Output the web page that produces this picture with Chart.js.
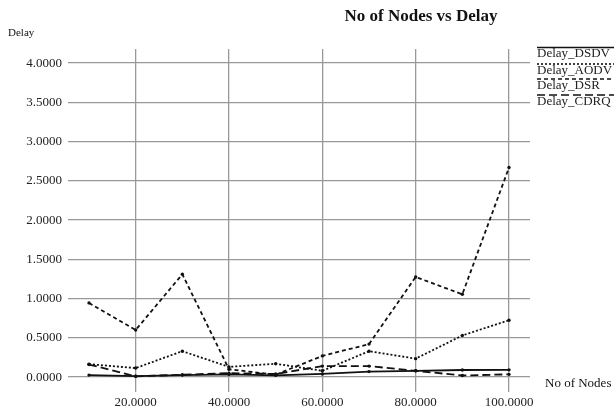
<!DOCTYPE html>
<html>
<head>
<meta charset="utf-8">
<script src="https://cdn.jsdelivr.net/npm/chart.js@4/dist/chart.umd.min.js"></script>
<style>
  html, body { margin: 0; padding: 0; background: #fff; }
  #wrap { width: 616px; height: 409px; position: relative; }
</style>
</head>
<body>
<div id="wrap"><canvas id="c" width="616" height="409"></canvas></div>
<script>
// Number of nodes in the simulation
const nodes = [10, 20, 30, 40, 50, 60, 70, 80, 90, 100];

// Average end-to-end delay per protocol
const delayDSDV = [0.025, 0.012, 0.025, 0.035, 0.022, 0.040, 0.070, 0.080, 0.090, 0.092];
const delayAODV = [0.165, 0.115, 0.330, 0.130, 0.170, 0.080, 0.330, 0.235, 0.530, 0.725];
const delayDSR  = [0.945, 0.600, 1.310, 0.100, 0.030, 0.270, 0.420, 1.275, 1.055, 2.670];
const delayCDRQ = [0.160, 0.010, 0.030, 0.050, 0.040, 0.140, 0.140, 0.080, 0.020, 0.035];

const seriesNames = ['Delay_DSDV', 'Delay_AODV', 'Delay_DSR', 'Delay_CDRQ'];

// Tick values on each axis
const xTicks = [20, 40, 60, 80, 100];
const yTicks = [0, 0.5, 1, 1.5, 2, 2.5, 3, 3.5, 4];

const SERIF = '"Liberation Serif", "Times New Roman", serif';
const dashes = [[], [2, 2], [4, 3], [8, 4]];

function pts(values) {
  return nodes.map((n, i) => ({ x: n, y: values[i] }));
}

const allSeries = [delayDSDV, delayAODV, delayDSR, delayCDRQ];
const datasets = allSeries.map((vals, i) => ({
  label: seriesNames[i],
  data: pts(vals),
  borderColor: '#111',
  backgroundColor: '#111',
  borderWidth: 1.8,
  borderDash: dashes[i],
  pointRadius: 1.7,
  pointBorderWidth: 0,
  pointBackgroundColor: '#111',
  tension: 0,
  fill: false
}));

// Title, axis captions and the line-over-text legend
const decorations = {
  id: 'decorations',
  afterDraw(chart) {
    const ctx = chart.ctx;
    ctx.save();
    ctx.fillStyle = '#111';
    ctx.textBaseline = 'middle';

    ctx.font = 'bold 17px ' + SERIF;
    ctx.textAlign = 'center';
    ctx.fillText('No of Nodes vs Delay', 421, 17);

    ctx.font = '11px ' + SERIF;
    ctx.textAlign = 'left';
    ctx.fillText('Delay', 8, 33);

    ctx.font = '13px ' + SERIF;
    ctx.fillText('No of Nodes', 545, 384);

    const lx = 537, lw = 77;
    const lineYs = [47.5, 64, 79, 95];
    seriesNames.forEach((name, i) => {
      ctx.beginPath();
      ctx.setLineDash(dashes[i]);
      ctx.lineWidth = 1.6;
      ctx.strokeStyle = '#111';
      ctx.moveTo(lx, lineYs[i]);
      ctx.lineTo(lx + lw, lineYs[i]);
      ctx.stroke();
      ctx.setLineDash([]);
      ctx.font = '13px ' + SERIF;
      ctx.fillStyle = '#222';
      ctx.fillText(name, lx, lineYs[i] + 6.5);
    });
    ctx.restore();
  }
};

new Chart(document.getElementById('c'), {
  type: 'line',
  data: { datasets },
  options: {
    responsive: false,
    animation: false,
    layout: { padding: { top: 49, right: 86, left: 0, bottom: 0 } },
    plugins: {
      legend: { display: false },
      title: { display: false },
      tooltip: { enabled: false }
    },
    scales: {
      x: {
        type: 'linear',
        min: 5.5,
        max: 104.5,
        afterBuildTicks(axis) { axis.ticks = xTicks.map(v => ({ value: v })); },
        afterFit(axis) { axis.height = 17; },
        grid: { color: '#999', lineWidth: 1.3, drawTicks: false },
        border: { display: false },
        ticks: {
          padding: 3,
          color: '#222',
          font: { family: SERIF, size: 13 },
          maxRotation: 0,
          callback: v => Number(v).toFixed(4)
        }
      },
      y: {
        type: 'linear',
        min: -0.19,
        max: 4.18,
        afterBuildTicks(axis) { axis.ticks = yTicks.map(v => ({ value: v })); },
        afterFit(axis) { axis.width = 68; },
        grid: { color: '#999', lineWidth: 1.3, drawTicks: false },
        border: { display: false },
        ticks: {
          padding: 6,
          color: '#222',
          font: { family: SERIF, size: 13 },
          callback: v => Number(v).toFixed(4)
        }
      }
    }
  },
  plugins: [decorations]
});
</script>
</body>
</html>
